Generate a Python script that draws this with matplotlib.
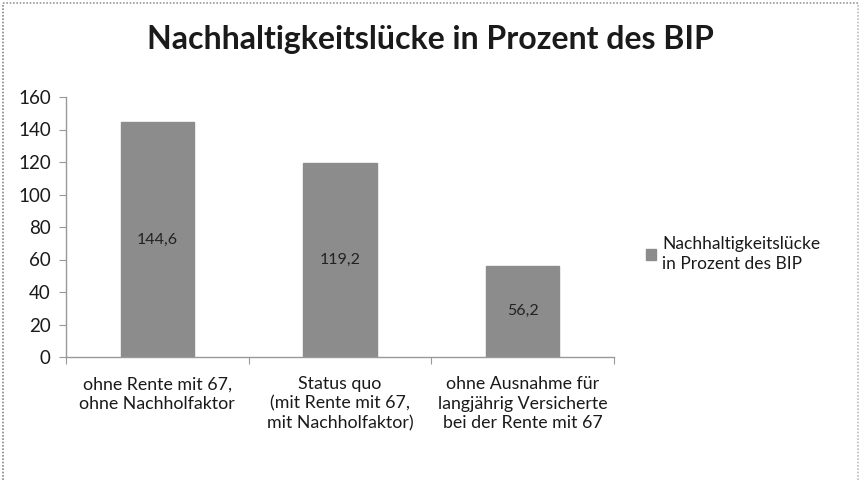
import matplotlib
matplotlib.use("Agg")
import matplotlib.pyplot as plt
from matplotlib.lines import Line2D

categories = ["ohne Rente mit 67,\nohne Nachholfaktor",
              "Status quo\n(mit Rente mit 67,\nmit Nachholfaktor)",
              "ohne Ausnahme für\nlangjährig Versicherte\nbei der Rente mit 67"]
values = [144.6, 119.2, 56.2]
value_labels = ["144,6", "119,2", "56,2"]
series_name = "Nachhaltigkeitslücke\nin Prozent des BIP"
title = "Nachhaltigkeitslücke in Prozent des BIP"
yticks = [0, 20, 40, 60, 80, 100, 120, 140, 160]

plt.rcParams['font.family'] = ['Lato', 'DejaVu Sans']

fig = plt.figure(figsize=(8.6, 4.8), dpi=100)
W, H = 860, 480
ax = fig.add_axes([66 / W, 1 - 357 / H, (614 - 66) / W, (357 - 97) / H])

x = list(range(len(values)))
bars = ax.bar(x, values, width=0.4, color="#8c8c8c", edgecolor="#8c8c8c", label=series_name)
for xi, v, lab in zip(x, values, value_labels):
    ax.text(xi, v / 2, lab, ha="center", va="center", fontsize=11.5, color="#222222")

ax.set_xlim(-0.5, len(values) - 0.5)
ax.set_ylim(0, 160)
ax.set_yticks(yticks)
ax.set_yticklabels([str(t) for t in yticks], fontsize=13.5, color="#1a1a1a")
ax.set_xticks([i + 0.5 for i in range(-1, len(values))])
ax.set_xticklabels([])
ax.set_xticks(x, minor=True)
ax.set_xticklabels(categories, minor=True, fontsize=12.8, color="#1a1a1a", linespacing=1.25)
ax.tick_params(axis="x", which="minor", length=0, pad=14)
ax.tick_params(axis="x", which="major", length=5, color="#999999", direction="out")
ax.tick_params(axis="y", length=5, color="#999999", direction="out", pad=6)
for s in ["top", "right"]:
    ax.spines[s].set_visible(False)
for s in ["left", "bottom"]:
    ax.spines[s].set_color("#999999")
    ax.spines[s].set_linewidth(1.0)

fig.text(0.5, 1 - 40 / H, title, ha="center", va="center", fontsize=23, fontweight="bold", color="#1a1a1a")

leg = fig.legend(handles=[bars], labels=[series_name], loc="center left",
                 bbox_to_anchor=(630 / W, 1 - 254 / H), frameon=False, fontsize=12.5,
                 handlelength=0.6, handleheight=0.6, handletextpad=0.35)
for t in leg.get_texts():
    t.set_color("#1a1a1a")
    t.set_linespacing(1.35)

border_kw = dict(transform=fig.transFigure, linewidth=1.2, linestyle=(0, (1, 1)))
fig.add_artist(Line2D([3 / W, 3 / W], [0, 1 - 3 / H], color="#888888", **border_kw))
fig.add_artist(Line2D([3 / W, 1 - 2 / W], [1 - 3 / H, 1 - 3 / H], color="#999999", **border_kw))
fig.add_artist(Line2D([1 - 2 / W, 1 - 2 / W], [0, 1 - 3 / H], color="#bbbbbb", **border_kw))

fig.savefig("out.png", dpi=100)
